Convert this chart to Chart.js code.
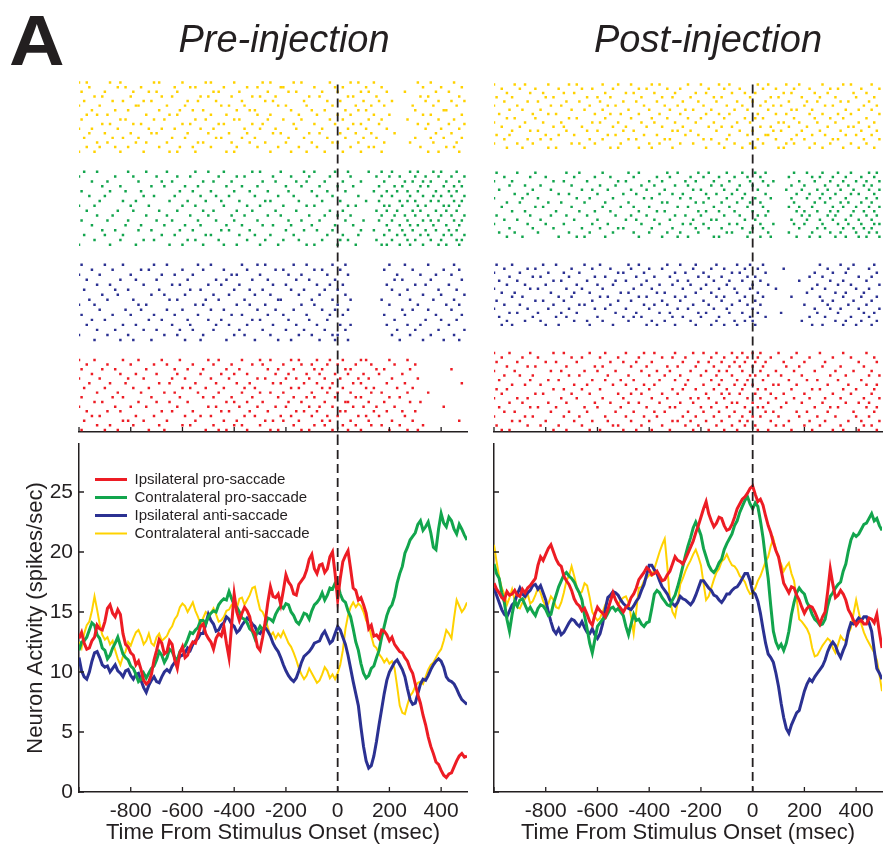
<!DOCTYPE html>
<html>
<head>
<meta charset="utf-8">
<script src="https://cdn.jsdelivr.net/npm/chart.js@4.4.1/dist/chart.umd.min.js"></script>
<style>
  html, body { margin: 0; padding: 0; background: #fff; overflow: hidden; }
  body { position: relative; width: 889px; height: 850px; font-family: "Liberation Sans", Arial, sans-serif; }
  canvas { position: absolute; }
  #letter { position: absolute; left: 9px; top: 6px; font: bold 70px/1 "Liberation Sans", Arial, sans-serif; color: #231f20; transform: scaleX(1.1); transform-origin: left top; }
</style>
</head>
<body>
<div id="letter">A</div>
<canvas id="preRaster" width="568" height="436" style="left:0;top:0"></canvas>
<canvas id="postRaster" width="456" height="436" style="left:480px;top:0"></canvas>
<canvas id="prePsth" width="480" height="414" style="left:0;top:436px"></canvas>
<canvas id="postPsth" width="409" height="414" style="left:480px;top:436px"></canvas>
<script>
// time axis of the spike density curves (ms from stimulus onset)
const timeMs = [
  -1000, -990, -980, -970, -960, -950, -940, -930, -920, -910, -900, -890, -880, -870, -860, -850, -840, -830, -820, -810,
  -800, -790, -780, -770, -760, -750, -740, -730, -720, -710, -700, -690, -680, -670, -660, -650, -640, -630, -620, -610,
  -600, -590, -580, -570, -560, -550, -540, -530, -520, -510, -500, -490, -480, -470, -460, -450, -440, -430, -420, -410,
  -400, -390, -380, -370, -360, -350, -340, -330, -320, -310, -300, -290, -280, -270, -260, -250, -240, -230, -220, -210,
  -200, -190, -180, -170, -160, -150, -140, -130, -120, -110, -100, -90, -80, -70, -60, -50, -40, -30, -20, -10,
  0, 10, 20, 30, 40, 50, 60, 70, 80, 90, 100, 110, 120, 130, 140, 150, 160, 170, 180, 190,
  200, 210, 220, 230, 240, 250, 260, 270, 280, 290, 300, 310, 320, 330, 340, 350, 360, 370, 380, 390,
  400, 410, 420, 430, 440, 450, 460, 470, 480, 490, 500
];

const seriesLabels = ['Ipsilateral pro-saccade', 'Contralateral pro-saccade', 'Ipsilateral anti-saccade', 'Contralateral anti-saccade'];
const xTickValues = [-1000, -800, -600, -400, -200, 0, 200, 400];
const xLabelValues = [-800, -600, -400, -200, 0, 200, 400];
const yTickValues = [0, 5, 10, 15, 20, 25];

// spikes/sec, pre-injection
const preIpsiPro = [
  12.8, 13.3, 12.4, 11.9, 12.0, 12.6, 12.9, 13.9, 13.6, 13.5, 14.2, 15.3, 15.6, 14.9, 14.6, 15.2, 14.8, 13.2, 12.3, 12.1,
  11.6, 11.4, 10.6, 10.9, 10.2, 9.3, 9.0, 9.2, 9.8, 11.0, 11.8, 12.7, 12.4, 11.5, 11.7, 12.6, 12.3, 11.0, 10.3, 11.6,
  12.1, 11.2, 11.4, 12.1, 12.5, 12.4, 13.1, 13.8, 14.0, 13.2, 12.8, 12.5, 11.9, 12.8, 13.2, 13.0, 13.8, 12.4, 11.2, 13.9,
  16.5, 15.0, 14.3, 14.9, 15.4, 15.1, 14.6, 13.5, 13.2, 12.1, 11.8, 12.9, 14.2, 15.8, 17.1, 16.3, 16.2, 16.5, 15.6, 16.8,
  18.1, 17.5, 17.2, 16.5, 16.4, 17.3, 17.6, 17.9, 18.5, 19.4, 19.8, 18.6, 18.2, 18.9, 19.0, 18.3, 18.6, 19.6, 20.0, 18.2,
  16.0, 17.8, 19.2, 19.7, 20.1, 18.6, 17.0, 16.8, 16.0, 16.2, 15.6, 14.9, 13.6, 13.9, 13.0, 13.1, 12.8, 13.5, 13.4, 13.1,
  12.6, 12.9, 12.3, 12.0, 11.7, 11.6, 11.2, 10.9, 10.3, 9.9, 9.0, 8.1, 7.4, 6.4, 5.6, 4.6, 3.8, 3.2, 2.5, 2.3,
  1.8, 1.4, 1.2, 1.5, 1.6, 2.1, 2.6, 3.0, 3.2, 2.9, 3.0
];
const preContraPro = [
  11.8, 12.5, 12.6, 12.9, 13.5, 14.1, 13.9, 13.1, 12.8, 12.0, 11.8, 11.1, 11.4, 12.0, 12.4, 12.9, 12.2, 11.5, 11.2, 11.0,
  10.5, 10.3, 9.8, 9.2, 9.4, 9.9, 9.5, 9.9, 10.3, 10.5, 11.0, 11.7, 11.4, 10.8, 11.2, 11.9, 11.7, 11.2, 11.0, 11.7,
  12.0, 12.2, 12.7, 13.3, 13.2, 13.5, 13.7, 14.3, 14.3, 14.0, 14.6, 14.9, 15.1, 15.0, 15.6, 15.9, 16.1, 16.0, 16.7, 16.1,
  15.6, 15.4, 15.0, 14.5, 14.4, 14.1, 13.6, 13.4, 12.8, 13.4, 13.8, 13.5, 13.9, 14.5, 14.4, 14.2, 14.8, 15.2, 15.5, 15.3,
  15.7, 15.6, 15.0, 14.7, 14.2, 14.0, 14.4, 14.9, 14.8, 14.4, 15.1, 15.6, 15.8, 16.1, 16.6, 16.0, 16.4, 17.0, 16.9, 17.4,
  17.3, 16.5, 16.0, 15.8, 15.1, 14.6, 13.6, 12.5, 11.8, 10.7, 9.9, 9.5, 9.7, 10.3, 10.5, 11.2, 11.8, 12.9, 13.8, 14.7,
  15.3, 15.6, 16.3, 17.4, 18.2, 18.8, 19.9, 20.4, 21.0, 21.3, 21.6, 22.3, 22.6, 21.8, 22.1, 22.5, 21.6, 20.4, 20.2, 21.9,
  23.2, 22.4, 22.1, 22.9, 22.6, 21.9, 21.5, 22.3, 21.9, 21.4, 21.0
];
const preIpsiAnti = [
  11.2, 10.1, 9.6, 9.4, 10.0, 10.9, 11.6, 11.7, 11.2, 10.6, 10.4, 10.5, 10.0, 10.3, 10.6, 10.1, 9.9, 9.6, 10.1, 10.2,
  9.7, 9.4, 9.8, 9.9, 9.3, 8.7, 8.3, 8.9, 9.3, 9.6, 9.2, 9.1, 9.6, 10.0, 10.2, 10.0, 10.5, 10.8, 10.9, 11.3,
  11.4, 11.6, 12.0, 11.8, 12.3, 12.6, 12.8, 13.2, 13.2, 14.0, 14.8, 14.3, 14.0, 13.4, 13.5, 13.9, 14.1, 14.6, 14.4, 14.0,
  13.8, 13.3, 13.5, 13.9, 14.2, 14.5, 14.3, 14.0, 13.8, 13.3, 13.2, 13.6, 13.7, 13.4, 13.0, 12.4, 12.0, 11.7, 11.2, 10.6,
  10.1, 9.7, 9.4, 9.2, 9.5, 10.1, 10.8, 11.3, 11.5, 11.7, 12.0, 12.4, 12.5, 12.6, 13.1, 13.4, 12.9, 12.4, 12.6, 13.2,
  13.8, 13.5, 12.9, 12.3, 11.4, 10.3, 9.2, 8.2, 7.2, 5.4, 3.8, 2.6, 2.0, 2.2, 3.0, 4.2, 5.6, 6.9, 8.2, 9.3,
  10.0, 10.4, 10.8, 11.0, 10.6, 10.2, 9.6, 8.6, 7.7, 7.3, 7.4, 8.2, 9.0, 9.4, 9.3, 9.7, 10.2, 10.6, 10.9, 11.1,
  10.9, 10.4, 9.6, 9.3, 9.2, 9.0, 8.6, 8.1, 7.7, 7.5, 7.3
];
const preContraAnti = [
  12.5, 12.0, 13.2, 13.9, 14.2, 15.1, 16.3, 15.2, 14.0, 13.1, 12.7, 12.9, 12.3, 12.6, 11.8, 11.1, 10.6, 11.3, 11.7, 12.5,
  12.2, 12.8, 13.3, 13.5, 13.0, 12.3, 12.6, 13.2, 12.4, 12.2, 12.9, 13.2, 12.6, 12.8, 13.0, 13.5, 13.8, 14.4, 14.7, 15.4,
  15.7, 15.5, 15.0, 15.4, 15.8, 15.1, 14.6, 14.0, 14.5, 15.0, 14.8, 14.9, 15.3, 14.8, 14.2, 14.3, 14.6, 15.1, 15.2, 15.6,
  15.8, 15.3, 16.1, 16.2, 15.6, 16.0, 16.4, 17.0, 17.1, 16.1, 15.2, 15.0, 14.5, 13.7, 13.0, 13.3, 12.8, 13.2, 12.9, 13.4,
  12.9, 12.4, 12.1, 11.6, 11.0, 10.3, 9.8, 9.4, 9.7, 10.3, 9.9, 9.5, 9.1, 9.3, 9.8, 10.4, 10.1, 9.5, 9.8, 9.4,
  9.9, 10.6, 11.8, 13.6, 14.7, 15.4, 15.8, 15.4, 15.7, 15.5, 15.0, 14.3, 13.9, 13.0, 12.2, 12.0, 11.5, 11.2, 10.8, 11.1,
  10.7, 10.9, 10.3, 8.8, 7.2, 6.6, 6.5, 7.3, 8.0, 8.3, 8.8, 9.1, 9.2, 9.0, 9.6, 10.2, 10.6, 10.8, 11.2, 11.6,
  11.9, 12.6, 13.5, 13.2, 12.8, 14.5, 16.0, 15.5, 15.0, 15.3, 15.8
];

// spikes/sec, post-injection
const postIpsiPro = [
  17.4, 16.9, 16.6, 16.2, 16.0, 16.7, 16.4, 16.5, 16.8, 16.4, 16.3, 16.9, 16.6, 17.0, 17.2, 17.5, 17.8, 18.9, 19.6, 19.3,
  19.8, 20.3, 20.6, 20.0, 19.4, 19.0, 18.8, 18.0, 17.6, 17.3, 16.8, 16.1, 15.7, 15.5, 15.1, 15.3, 14.8, 14.2, 13.9, 14.8,
  15.4, 15.1, 14.9, 14.6, 15.2, 15.9, 16.6, 16.0, 15.6, 15.3, 15.0, 15.4, 15.6, 16.2, 16.5, 17.0, 17.7, 18.0, 18.3, 18.7,
  18.5, 18.1, 18.2, 18.4, 18.0, 17.6, 17.7, 18.1, 18.4, 19.0, 19.6, 19.3, 19.2, 19.0, 19.4, 19.9, 20.4, 20.9, 21.6, 22.2,
  22.9, 23.6, 24.2, 23.2, 22.6, 22.1, 22.4, 22.9, 22.8, 22.2, 21.8, 21.9, 22.3, 22.9, 23.6, 24.0, 24.4, 24.6, 24.9, 25.3,
  25.5, 24.8, 24.2, 24.4, 23.9, 23.0, 22.2, 21.6, 20.8, 20.1, 19.6, 18.5, 17.4, 17.0, 16.6, 17.1, 17.0, 16.4, 16.0, 15.4,
  14.9, 15.3, 15.5, 15.4, 15.0, 14.5, 14.0, 14.6, 15.0, 16.7, 18.6, 17.3, 16.2, 16.4, 16.8, 16.5, 16.0, 15.2, 14.8, 14.3,
  13.9, 14.2, 14.3, 14.0, 14.0, 14.5, 14.4, 14.1, 14.8, 13.3, 12.0
];
const postContraPro = [
  19.0, 18.2, 17.8, 16.6, 15.8, 14.4, 13.4, 14.8, 15.9, 15.5, 16.0, 16.1, 15.6, 15.1, 15.4, 15.0, 14.7, 15.3, 15.6, 15.5,
  15.2, 14.7, 14.8, 15.7, 16.4, 17.1, 17.6, 18.1, 18.3, 18.0, 17.8, 17.5, 17.0, 16.6, 16.0, 14.7, 13.6, 12.4, 11.6, 12.7,
  13.8, 14.1, 14.4, 14.5, 14.9, 15.3, 15.4, 15.1, 15.3, 15.0, 14.7, 13.8, 13.1, 14.0, 14.8, 14.3, 14.4, 14.0, 13.8, 14.1,
  14.2, 15.3, 16.5, 16.8, 16.6, 16.2, 15.9, 15.6, 15.5, 16.0, 16.4, 17.1, 17.9, 18.8, 19.7, 20.5, 21.2, 22.0, 22.5, 22.0,
  21.4, 20.3, 19.6, 18.9, 18.5, 18.3, 18.6, 19.1, 19.4, 20.2, 20.7, 21.1, 21.5, 22.2, 22.6, 23.3, 23.8, 24.3, 24.6, 24.0,
  23.6, 24.1, 23.8, 22.6, 21.2, 19.4, 17.8, 15.5, 13.4, 12.5, 12.0, 12.3, 11.8, 12.4, 13.4, 14.8, 15.8, 16.6, 17.0, 16.7,
  16.5, 15.8, 15.4, 14.8, 14.4, 14.2, 13.9, 14.0, 14.4, 15.5, 16.3, 16.6, 17.0, 17.3, 17.5, 18.4, 19.0, 20.1, 21.0, 21.5,
  21.3, 21.5, 21.9, 22.3, 22.4, 22.8, 23.2, 22.6, 22.8, 22.2, 21.8
];
const postIpsiAnti = [
  17.0, 16.4, 15.8, 15.2, 14.8, 14.6, 15.1, 15.6, 15.8, 16.5, 17.0, 16.5, 16.3, 16.6, 16.8, 17.2, 17.3, 16.9, 17.2, 16.6,
  16.0, 15.0, 14.2, 13.5, 13.2, 13.6, 13.1, 13.3, 13.7, 14.1, 14.4, 14.3, 14.0, 13.8, 14.2, 13.7, 13.3, 13.2, 13.6, 13.1,
  12.8, 13.2, 14.0, 15.2, 16.2, 16.4, 16.7, 16.6, 16.4, 16.0, 15.7, 15.5, 15.3, 15.2, 15.5, 15.9, 16.2, 16.8, 17.3, 18.1,
  18.9, 18.9, 18.5, 18.2, 17.6, 17.1, 16.8, 16.5, 16.0, 15.7, 15.5, 15.8, 16.3, 16.1, 16.0, 15.8, 15.6, 15.9, 16.4, 17.0,
  17.6, 17.6, 17.3, 17.0, 16.8, 16.4, 16.3, 16.0, 15.8, 16.1, 16.5, 16.5, 16.8, 17.0, 17.1, 17.4, 17.8, 18.2, 18.2, 17.6,
  16.7, 16.5, 15.9, 14.9, 13.6, 12.4, 11.5, 11.2, 10.8, 9.9, 8.8, 7.4, 6.2, 5.3, 4.9, 5.6, 6.1, 6.6, 6.8, 7.6,
  8.4, 9.0, 9.4, 9.2, 9.6, 9.9, 10.2, 10.5, 11.0, 11.7, 12.2, 12.5, 12.2, 11.6, 11.2, 11.8, 12.3, 13.4, 14.1, 14.0,
  14.2, 14.5, 14.3, 14.6, 14.6, 14.1, 13.4, 11.8, 10.3, 9.9, 9.4
];
const postContraAnti = [
  20.6, 19.2, 17.9, 17.0, 16.5, 15.6, 16.2, 16.9, 16.0, 15.4, 15.3, 15.8, 16.1, 16.5, 15.7, 15.9, 16.4, 17.0, 16.6, 15.9,
  15.5, 15.7, 16.3, 16.0, 15.4, 15.3, 15.8, 16.6, 17.6, 18.0, 18.8, 18.0, 17.1, 16.5, 16.7, 17.4, 17.2, 16.2, 15.0, 14.6,
  14.3, 14.5, 15.0, 15.6, 16.0, 16.4, 16.6, 16.0, 15.6, 16.0, 16.2, 16.3, 15.8, 14.6, 13.2, 15.1, 17.0, 17.1, 17.6, 17.8,
  18.1, 18.0, 18.6, 19.3, 20.0, 20.6, 21.1, 18.8, 16.0, 15.0, 14.6, 15.8, 17.3, 17.8, 18.4, 18.9, 19.3, 19.8, 20.2, 19.6,
  18.9, 17.4, 16.0, 16.3, 17.0, 17.7, 18.3, 18.6, 19.2, 19.4, 19.8, 19.3, 18.9, 18.8, 18.5, 18.0, 17.8, 17.5, 16.9, 16.5,
  16.6, 17.0, 17.6, 18.0, 18.6, 19.2, 19.6, 20.5, 21.1, 20.2, 19.5, 19.0, 18.4, 18.8, 19.1, 18.2, 17.6, 16.1, 14.4, 14.2,
  13.9, 13.6, 13.1, 12.0, 11.3, 11.4, 11.8, 12.2, 12.5, 12.8, 12.6, 12.0, 11.6, 12.3, 13.0, 12.7, 12.6, 13.2, 13.7, 14.9,
  16.0, 15.0, 14.0, 13.3, 12.8, 12.4, 12.0, 11.6, 11.0, 9.8, 8.4
];

// raster spike times, one array per trial, in units of 10 ms
const preContraAntiSpikes = [
  [-100,-97,-88,-84,-71,-69,-60,-51,-49,-40,-29,-26,-17,-14,-3,5,8,14,31,36,45],
  [-96,-85,-82,-76,-63,-57,-55,-44,-35,-31,-22,-21,-9,-1,2,11,17,33,40,48],
  [-99,-90,-79,-73,-70,-62,-48,-46,-38,-27,-19,-16,-6,0,9,12,19,26,38,43],
  [-94,-91,-80,-68,-64,-53,-50,-41,-33,-30,-24,-11,-7,4,6,15,32,35,47],
  [-98,-87,-83,-75,-72,-58,-54,-47,-37,-28,-25,-13,-4,1,10,16,21,34,39,44,49],
  [-100,-92,-78,-77,-66,-59,-45,-42,-36,-23,-20,-12,-2,7,13,18,29,37,46],
  [-95,-86,-81,-69,-61,-56,-52,-39,-34,-32,-18,-10,-5,3,8,11,30,41,42],
  [-97,-93,-89,-74,-65,-62,-49,-43,-31,-26,-15,-8,0,5,14,20,33,36,48],
  [-99,-84,-82,-71,-67,-55,-51,-40,-38,-27,-21,-14,-3,2,12,17,27,39,45],
  [-91,-88,-79,-76,-60,-57,-46,-44,-33,-29,-17,-9,-1,6,9,16,31,35,43,49],
  [-100,-95,-85,-73,-68,-63,-53,-48,-36,-30,-24,-16,-6,4,11,19,34,40,47],
  [-96,-90,-80,-72,-70,-58,-50,-42,-35,-25,-22,-11,-7,1,7,13,22,38,44],
  [-98,-87,-83,-77,-64,-59,-47,-45,-37,-32,-19,-13,-4,3,10,15,30,36,41,48],
  [-93,-89,-78,-74,-66,-54,-52,-41,-34,-28,-20,-10,-2,0,8,18,28,37,46],
  [-97,-92,-86,-81,-69,-61,-56,-49,-39,-31,-23,-15,-8,5,12,14,32,42,45],
  [-100,-94,-84,-75,-65,-62,-55,-43,-40,-26,-18,-12,-5,2,9,17,35,39,47]
];
const preContraProSpikes = [
  [-98,-93,-81,-74,-66,-55,-50,-44,-33,-30,-22,-13,-9,-1,4,12,17,21,28,31,37,40,46],
  [-100,-86,-79,-70,-62,-57,-46,-39,-36,-25,-18,-11,-3,5,15,20,24,30,34,39,44,49],
  [-95,-89,-77,-68,-64,-52,-48,-41,-29,-24,-16,-12,-5,2,9,18,26,29,33,36,42,47],
  [-91,-84,-72,-67,-59,-54,-43,-37,-31,-20,-14,-7,0,6,16,22,25,32,35,41,45,48],
  [-99,-88,-82,-76,-61,-56,-49,-40,-34,-27,-19,-10,-4,3,14,19,23,27,31,38,43,46],
  [-96,-90,-75,-71,-63,-53,-47,-42,-32,-23,-17,-8,-2,8,17,21,28,33,37,40,44,49],
  [-92,-83,-78,-65,-58,-51,-45,-38,-28,-26,-15,-6,1,11,16,24,27,30,36,39,45,48],
  [-100,-94,-80,-73,-60,-55,-44,-35,-30,-21,-12,-9,4,7,18,20,25,31,34,41,43,47],
  [-97,-85,-79,-69,-62,-52,-48,-39,-33,-24,-16,-3,2,15,19,23,29,32,38,42,46],
  [-93,-87,-74,-66,-57,-50,-41,-36,-27,-22,-11,-5,0,5,17,22,26,30,35,40,44,49],
  [-99,-89,-81,-70,-64,-54,-47,-40,-31,-19,-14,-7,3,10,16,21,27,33,36,39,45,48],
  [-95,-82,-76,-67,-59,-53,-43,-37,-29,-25,-18,-10,-1,6,19,24,28,31,37,42,47],
  [-91,-86,-77,-72,-61,-56,-45,-42,-34,-20,-13,-8,-2,9,14,20,25,29,34,38,43,46],
  [-98,-90,-83,-68,-63,-51,-49,-38,-32,-26,-17,-4,2,8,18,23,26,32,35,41,44,49],
  [-94,-84,-75,-71,-58,-55,-46,-35,-28,-21,-15,-6,1,4,15,21,27,30,36,40,46,48],
  [-100,-88,-78,-65,-60,-52,-44,-39,-30,-23,-12,-9,0,7,17,19,24,28,33,39,42,47]
];
const preIpsiAntiSpikes = [
  [-99,-90,-83,-71,-66,-54,-49,-37,-31,-28,-17,-12,-2,3,20,26,35,45],
  [-95,-87,-76,-73,-60,-52,-44,-35,-24,-21,-9,-6,1,18,29,41,47],
  [-100,-92,-80,-68,-63,-56,-41,-39,-30,-19,-14,-4,4,23,32,38,44],
  [-97,-84,-78,-70,-58,-47,-43,-33,-27,-16,-11,-1,22,25,36,48],
  [-93,-88,-75,-64,-61,-50,-45,-38,-25,-20,-8,-3,2,19,30,34,43],
  [-98,-86,-81,-69,-57,-53,-40,-34,-29,-18,-13,-5,0,21,27,39,46],
  [-91,-85,-72,-67,-59,-48,-42,-32,-26,-15,-7,3,24,33,40,49],
  [-96,-89,-79,-65,-62,-51,-46,-36,-23,-22,-10,-2,5,17,28,37,45],
  [-100,-94,-77,-74,-55,-52,-39,-34,-28,-14,-9,0,20,31,42,47],
  [-92,-82,-76,-66,-60,-49,-44,-31,-24,-17,-6,-1,4,25,29,35,44],
  [-99,-87,-80,-71,-63,-54,-41,-37,-27,-21,-12,-3,2,18,26,38,48],
  [-95,-90,-73,-68,-58,-50,-45,-33,-30,-19,-11,-4,22,34,40,46],
  [-97,-83,-78,-64,-57,-47,-42,-35,-25,-16,-8,1,5,19,27,32,43],
  [-93,-86,-75,-70,-61,-56,-48,-38,-29,-20,-13,-5,3,23,30,39,49],
  [-100,-89,-81,-67,-62,-52,-40,-36,-26,-15,-10,-2,0,21,28,36,45],
  [-94,-84,-79,-72,-59,-53,-43,-32,-23,-18,-7,-1,4,24,33,41,47]
];
const preIpsiProSpikes = [
  [-100,-94,-83,-77,-68,-61,-50,-46,-37,-30,-26,-18,-15,-8,-3,2,9,11,20,27],
  [-97,-89,-80,-71,-66,-56,-48,-41,-33,-29,-21,-14,-10,-4,0,7,13,22,30],
  [-99,-91,-86,-74,-63,-58,-52,-43,-38,-27,-23,-17,-9,-6,3,5,15,18,28,44],
  [-95,-84,-78,-70,-62,-53,-45,-40,-35,-24,-19,-12,-7,-1,4,10,16,25],
  [-100,-92,-81,-75,-64,-59,-49,-42,-31,-28,-20,-16,-11,-5,1,8,12,21,31],
  [-96,-88,-82,-69,-65,-55,-47,-39,-34,-25,-22,-13,-8,-2,6,9,19,26,48],
  [-98,-90,-79,-73,-60,-57,-51,-44,-36,-32,-18,-15,-6,-3,2,11,14,23,29],
  [-93,-85,-76,-67,-63,-54,-46,-37,-30,-26,-21,-10,-4,0,5,13,17,27,35],
  [-99,-87,-83,-72,-61,-52,-48,-41,-33,-23,-17,-12,-9,-1,7,9,20,24],
  [-94,-91,-77,-70,-65,-58,-43,-40,-35,-29,-19,-14,-5,3,4,12,18,28,32],
  [-100,-86,-80,-74,-62,-50,-47,-38,-31,-24,-20,-11,-7,-2,6,10,15,22,41],
  [-97,-89,-84,-68,-64,-56,-45,-42,-34,-27,-16,-13,-8,1,3,14,19,25,30],
  [-95,-92,-78,-71,-59,-53,-49,-36,-32,-22,-18,-10,-4,0,8,11,16,26],
  [-98,-83,-81,-75,-66,-55,-44,-39,-28,-25,-21,-15,-6,-3,5,12,21,29,47],
  [-93,-88,-79,-69,-60,-57,-48,-40,-37,-30,-17,-9,-5,2,7,13,17,24,33],
  [-99,-90,-85,-73,-67,-51,-46,-43,-35,-26,-23,-14,-11,-2,4,9,20,27,31]
];

const postContraAntiSpikes = [
  [-100,-92,-88,-79,-71,-68,-58,-52,-47,-39,-36,-25,-20,-13,-9,2,6,13,18,27,35,38,46],
  [-97,-90,-84,-75,-66,-62,-54,-44,-41,-33,-28,-17,-11,-5,4,9,16,22,30,33,42,49],
  [-95,-86,-81,-73,-69,-57,-49,-46,-38,-30,-22,-18,-8,-3,1,12,15,24,29,39,44],
  [-99,-93,-80,-77,-64,-60,-55,-43,-35,-31,-24,-15,-12,-1,7,10,19,26,32,40,47],
  [-96,-87,-83,-72,-67,-59,-50,-45,-37,-27,-21,-14,-6,0,5,14,21,25,34,37,45],
  [-100,-91,-78,-74,-63,-56,-53,-42,-34,-29,-19,-10,-4,3,8,11,20,28,31,43,48],
  [-94,-89,-82,-70,-65,-58,-48,-40,-32,-26,-23,-16,-7,-2,6,15,17,23,36,41,46],
  [-98,-85,-79,-76,-61,-55,-51,-44,-36,-28,-18,-13,-9,2,9,13,22,27,33,38,49],
  [-95,-92,-84,-71,-68,-57,-47,-39,-33,-25,-20,-11,-3,1,4,16,24,30,35,44],
  [-100,-88,-81,-74,-62,-59,-52,-43,-38,-30,-22,-15,-6,-1,10,12,18,25,32,41,47],
  [-97,-90,-77,-73,-66,-54,-49,-41,-35,-27,-17,-12,-8,3,7,14,21,29,37,39,45],
  [-93,-86,-83,-72,-64,-60,-50,-46,-31,-29,-24,-14,-5,0,8,11,19,26,34,42,48],
  [-99,-94,-80,-75,-69,-56,-53,-42,-37,-26,-21,-9,-2,5,6,17,23,28,36,40,46],
  [-96,-87,-82,-78,-63,-58,-48,-45,-34,-32,-19,-16,-10,2,9,15,20,31,33,43,49],
  [-100,-91,-85,-70,-67,-61,-51,-40,-36,-28,-23,-13,-7,-1,4,13,16,24,30,38,44],
  [-95,-89,-79,-76,-65,-55,-52,-44,-39,-31,-18,-11,-4,1,10,12,22,27,35,41,47]
];
const postContraProSpikes = [
  [-99,-91,-84,-72,-67,-58,-48,-44,-33,-29,-21,-17,-10,-4,1,5,16,21,27,33,38,45,48],
  [-96,-86,-80,-69,-61,-55,-46,-37,-32,-24,-19,-13,-7,-2,3,14,23,26,31,36,42,47],
  [-100,-93,-77,-73,-64,-52,-49,-40,-35,-26,-22,-15,-9,-1,4,8,18,24,30,35,40,44,49],
  [-94,-88,-82,-70,-59,-53,-43,-38,-30,-25,-16,-12,-5,0,6,15,20,28,33,37,43,46],
  [-98,-85,-78,-66,-62,-56,-47,-41,-34,-23,-20,-11,-6,2,13,19,25,29,34,39,45,49],
  [-92,-87,-75,-71,-60,-50,-45,-36,-31,-27,-18,-14,-8,-3,5,17,22,27,32,38,41,47],
  [-100,-89,-83,-68,-63,-54,-42,-39,-28,-24,-17,-10,-4,1,7,15,21,26,30,36,44,48],
  [-95,-90,-79,-74,-65,-57,-48,-35,-33,-22,-19,-12,-6,-1,3,16,24,28,34,37,42,46],
  [-97,-84,-81,-70,-58,-51,-46,-40,-29,-25,-15,-9,-2,4,14,18,23,31,35,40,45,49],
  [-93,-88,-76,-67,-61,-55,-44,-37,-34,-21,-18,-13,-7,0,6,17,20,25,30,33,39,43,47],
  [-99,-86,-78,-72,-64,-53,-47,-41,-30,-26,-20,-11,-5,2,5,19,22,29,32,38,44,48],
  [-96,-91,-82,-69,-60,-49,-45,-38,-32,-23,-16,-14,-3,1,15,21,26,31,36,41,46],
  [-100,-87,-80,-73,-62,-56,-43,-36,-27,-24,-19,-9,-6,3,8,16,20,27,33,37,42,47,49],
  [-94,-85,-77,-66,-59,-52,-50,-39,-31,-22,-17,-12,-4,0,4,18,25,28,35,39,43,46],
  [-98,-92,-83,-71,-63,-54,-46,-40,-33,-28,-21,-10,-8,-1,6,14,23,30,34,40,45,48],
  [-95,-89,-75,-68,-65,-57,-44,-35,-29,-25,-15,-13,-2,3,7,17,22,26,32,36,41,44,49]
];
const postIpsiAntiSpikes = [
  [-99,-93,-81,-76,-65,-59,-48,-44,-33,-28,-22,-14,-6,-1,4,26,34,39,47],
  [-96,-87,-84,-70,-62,-55,-47,-40,-35,-23,-16,-11,-3,2,12,29,37,45],
  [-100,-90,-79,-73,-67,-52,-50,-42,-30,-26,-19,-8,-5,5,24,31,36,48],
  [-94,-85,-82,-71,-61,-57,-45,-38,-32,-21,-17,-12,-2,1,22,27,41,46],
  [-98,-91,-77,-74,-64,-53,-49,-41,-29,-25,-15,-9,-4,3,18,30,35,44],
  [-95,-88,-80,-68,-60,-54,-43,-36,-31,-24,-18,-10,0,6,25,33,38,49],
  [-100,-86,-83,-72,-66,-58,-46,-39,-27,-20,-13,-7,-1,9,23,28,40,45],
  [-97,-92,-78,-69,-63,-51,-48,-37,-34,-22,-16,-6,2,21,32,36,43],
  [-93,-89,-75,-70,-59,-56,-44,-41,-30,-26,-14,-11,-3,4,15,26,35,42,48],
  [-99,-84,-81,-73,-62,-52,-47,-35,-28,-19,-12,-5,1,27,31,39,46],
  [-96,-90,-77,-67,-65,-55,-42,-38,-33,-23,-17,-8,-2,3,20,29,37,44],
  [-100,-87,-79,-71,-61,-57,-49,-40,-29,-25,-15,-10,0,24,30,34,41,49],
  [-94,-91,-83,-74,-68,-53,-45,-36,-32,-21,-18,-9,-4,2,11,25,33,43,47],
  [-98,-85,-76,-72,-60,-50,-46,-43,-31,-27,-20,-13,-1,5,22,28,38,45],
  [-95,-88,-82,-69,-64,-58,-48,-39,-34,-24,-14,-7,-3,0,19,32,36,42,48],
  [-97,-93,-80,-75,-63,-54,-41,-37,-30,-22,-16,-11,-6,1,23,27,35,40,46]
];
const postIpsiProSpikes = [
  [-100,-94,-86,-77,-73,-63,-57,-49,-42,-38,-30,-23,-19,-14,-8,-4,0,3,10,17,26,35,44],
  [-97,-89,-83,-70,-66,-59,-52,-44,-35,-31,-26,-16,-11,-6,-2,2,7,15,22,31,38,47],
  [-99,-91,-80,-76,-68,-55,-50,-45,-39,-27,-21,-17,-12,-7,-3,1,5,12,20,28,41,48],
  [-95,-87,-84,-72,-61,-58,-47,-41,-33,-29,-22,-15,-9,-5,0,4,13,18,27,34,43],
  [-100,-92,-78,-74,-65,-60,-53,-43,-37,-32,-24,-18,-13,-10,-4,3,9,16,24,32,39,46],
  [-96,-90,-85,-71,-67,-56,-48,-40,-34,-28,-20,-14,-8,-1,1,6,11,19,30,36,45,49],
  [-98,-86,-79,-75,-62,-57,-51,-46,-36,-30,-25,-16,-12,-6,-2,4,14,21,25,33,42],
  [-93,-88,-82,-69,-64,-54,-49,-42,-38,-26,-19,-13,-7,-3,0,8,10,17,29,37,44,48],
  [-99,-95,-77,-73,-66,-59,-45,-40,-31,-27,-22,-15,-10,-4,2,5,15,23,26,35,40,47],
  [-97,-84,-81,-70,-63,-52,-47,-43,-35,-29,-18,-12,-9,-5,1,7,12,20,31,38,46],
  [-100,-91,-87,-74,-68,-58,-50,-39,-33,-24,-21,-17,-11,-2,3,9,16,22,28,34,43,49],
  [-94,-89,-79,-72,-61,-55,-48,-44,-36,-28,-23,-14,-8,-6,0,6,13,19,27,36,41,45],
  [-98,-86,-83,-76,-65,-60,-51,-41,-32,-30,-20,-16,-10,-3,2,4,11,24,30,33,44,48],
  [-96,-92,-78,-71,-64,-53,-46,-38,-34,-25,-19,-13,-7,-1,5,8,17,21,29,39,47],
  [-100,-88,-85,-73,-67,-57,-49,-42,-37,-27,-22,-15,-9,-4,0,3,10,18,25,32,40,45],
  [-93,-90,-80,-69,-62,-56,-47,-40,-31,-29,-24,-18,-12,-5,-2,7,14,22,28,37,42,49],
  [-99,-87,-82,-75,-66,-54,-52,-43,-35,-26,-21,-14,-8,-3,1,9,12,20,26,34,43,46],
  [-97,-94,-77,-72,-63,-59,-50,-45,-39,-32,-23,-17,-11,-6,2,6,15,23,31,35,41,48]
];

const ink = '#231f20';
const red = '#ed1c24', green = '#12a54d', blue = '#2b3192', yellow = '#ffd200';

Chart.defaults.font.family = '"Liberation Sans", Arial, Helvetica, sans-serif';
Chart.defaults.color = ink;
Chart.defaults.animation = false;

// inward tick marks and the dashed line at stimulus onset
const panelMarks = {
  id: 'panelMarks',
  afterDatasetsDraw(chart, args, opts) {
    const { ctx, chartArea, scales } = chart;
    ctx.save();
    ctx.strokeStyle = ink;
    ctx.lineWidth = 1.3;
    ctx.beginPath();
    (opts.xTicks || []).forEach(v => {
      const px = scales.x.getPixelForValue(v);
      ctx.moveTo(px, chartArea.bottom);
      ctx.lineTo(px, chartArea.bottom - 5);
    });
    (opts.yTicks || []).forEach(v => {
      const py = scales.y.getPixelForValue(v);
      ctx.moveTo(chartArea.left, py);
      ctx.lineTo(chartArea.left + 5, py);
    });
    ctx.stroke();
    const x0 = scales.x.getPixelForValue(0);
    ctx.setLineDash([9, 5]);
    ctx.lineWidth = 1.8;
    ctx.beginPath();
    ctx.moveTo(x0, opts.dashFromTop ? 0 : chartArea.top + 5);
    ctx.lineTo(x0, opts.dashFromTop ? chartArea.bottom : chart.height);
    ctx.stroke();
    ctx.restore();
  },
  afterLayout(chart, args, opts) {
    if (opts.legendShift && chart.legend) {
      chart.legend.left += opts.legendShift[0];
      chart.legend.top += opts.legendShift[1];
    }
  }
};

// an empty side axis that only reserves a fixed width
function spacerAxis(position, width) {
  return {
    position, display: true, min: 0, max: 1,
    ticks: { display: false },
    grid: { display: false, drawTicks: false },
    border: { display: false },
    afterFit: s => { s.width = width; s.paddingTop = 0; s.paddingBottom = 0; }
  };
}

function rasterChart(id, title, blocks, rows, leftWidth, rightWidth) {
  const datasets = blocks.map((b, k) => {
    const [top, bottom] = rows[k];
    const step = (bottom - top) / (b.trials.length - 1);
    const pts = [];
    b.trials.forEach((trial, i) => trial.forEach(t => pts.push({ x: t * 10, y: top + i * step })));
    return {
      data: pts,
      yAxisID: 'y',
      pointStyle: 'rect',
      pointRadius: 1.75,
      pointBackgroundColor: b.color,
      pointBorderWidth: 0
    };
  });
  const yLeft = spacerAxis('left', leftWidth);
  yLeft.reverse = true;
  yLeft.max = 352;
  return new Chart(document.getElementById(id), {
    type: 'scatter',
    data: { datasets },
    options: {
      responsive: false,
      events: [],
      layout: { padding: 0 },
      plugins: {
        legend: { display: false },
        tooltip: { enabled: false },
        title: {
          display: true,
          text: title,
          color: ink,
          font: { size: 38, style: 'italic', weight: 'normal' },
          padding: { top: 19, bottom: 15 }
        },
        panelMarks: { xTicks: xTickValues, dashFromTop: false }
      },
      scales: {
        x: {
          type: 'linear', min: -1000, max: 500,
          ticks: { display: false },
          grid: { display: false, drawTicks: false },
          border: { display: true, color: ink, width: 1.5 },
          afterFit: s => { s.height = 4; s.paddingLeft = 0; s.paddingRight = 0; }
        },
        y: yLeft,
        y2: spacerAxis('right', rightWidth)
      }
    },
    plugins: [panelMarks]
  });
}

function psthChart(id, series, withLabels, yWidth, padRight) {
  const colors = [red, green, blue, yellow];
  const datasets = series.map((vals, k) => ({
    label: seriesLabels[k],
    data: timeMs.map((t, i) => ({ x: t, y: vals[i] })),
    borderColor: colors[k],
    backgroundColor: colors[k],
    borderWidth: k === 3 ? 2 : 3,
    pointRadius: 0,
    tension: 0
  }));
  return new Chart(document.getElementById(id), {
    type: 'line',
    data: { datasets },
    options: {
      responsive: false,
      events: [],
      layout: { padding: { left: 0, right: padRight, top: 8, bottom: 0 } },
      plugins: {
        tooltip: { enabled: false },
        legend: {
          display: withLabels,
          position: 'chartArea',
          align: 'start',
          labels: {
            usePointStyle: true,
            pointStyle: 'line',
            pointStyleWidth: 32,
            boxHeight: 15,
            padding: 3,
            color: ink,
            font: { size: 15 }
          }
        },
        panelMarks: { xTicks: xTickValues, yTicks: yTickValues, dashFromTop: true, legendShift: withLabels ? [13, 33] : null }
      },
      scales: {
        x: {
          type: 'linear', min: -1000, max: 500,
          ticks: { autoSkip: false, maxRotation: 0, padding: 7, font: { size: 21 } },
          afterBuildTicks: s => { s.ticks = xLabelValues.map(v => ({ value: v })); },
          grid: { display: false, drawTicks: false },
          border: { display: true, color: ink, width: 1.5 },
          title: { display: true, text: 'Time From Stimulus Onset (msec)', font: { size: 22 }, padding: { top: 0, bottom: 4 } },
          afterFit: s => { s.height = 58; s.paddingLeft = 0; s.paddingRight = 0; }
        },
        y: {
          min: 0, max: 29,
          ticks: { display: withLabels, padding: 6, font: { size: 21 } },
          afterBuildTicks: s => { s.ticks = yTickValues.map(v => ({ value: v })); },
          grid: { display: false, drawTicks: false },
          border: { display: true, color: ink, width: 1.5 },
          title: { display: withLabels, text: 'Neuron Activity (spikes/sec)', font: { size: 22 }, padding: { top: 23, bottom: 0 } },
          afterFit: s => { s.width = yWidth; s.paddingTop = 0; s.paddingBottom = 0; }
        }
      }
    },
    plugins: [panelMarks]
  });
}

rasterChart('preRaster', 'Pre-injection', [
  { trials: preContraAntiSpikes, color: yellow },
  { trials: preContraProSpikes, color: green },
  { trials: preIpsiAntiSpikes, color: blue },
  { trials: preIpsiProSpikes, color: red }
], [[3, 72], [92, 165], [185, 260], [280, 350]], 79, 101);

rasterChart('postRaster', 'Post-injection', [
  { trials: postContraAntiSpikes, color: yellow },
  { trials: postContraProSpikes, color: green },
  { trials: postIpsiAntiSpikes, color: blue },
  { trials: postIpsiProSpikes, color: red }
], [[5, 68], [93, 157], [185, 245], [273, 350]], 14, 54);

psthChart('prePsth', [preIpsiPro, preContraPro, preIpsiAnti, preContraAnti], true, 79, 13);
psthChart('postPsth', [postIpsiPro, postContraPro, postIpsiAnti, postContraAnti], false, 14, 7);
</script>
</body>
</html>
